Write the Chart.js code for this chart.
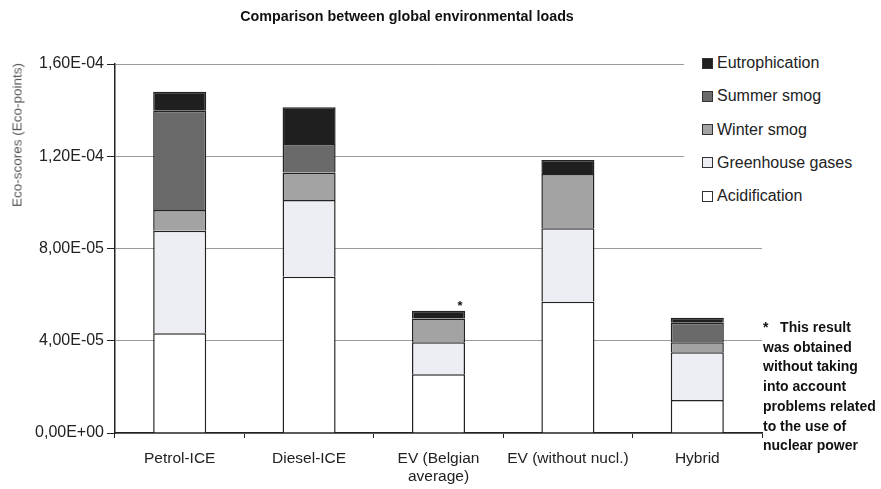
<!DOCTYPE html>
<html>
<head>
<meta charset="utf-8">
<script src="https://cdn.jsdelivr.net/npm/chart.js@4/dist/chart.umd.min.js"></script>
<style>
  body { margin: 0; background: #fff; font-family: "Liberation Sans", Arial, sans-serif; }
  #wrap { position: relative; width: 881px; height: 489px; }
  #title { position: absolute; left: 0; width: 814px; top: 8px; text-align: center;
           font-weight: bold; font-size: 14.3px; color: #111; }
  #ytitle { position: absolute; left: 17px; top: 135px; transform: translate(-50%, -50%) rotate(-90deg);
            white-space: nowrap; font-size: 13.5px; color: #555; }
  #legend { position: absolute; left: 684px; top: 52px; width: 197px; height: 160px; background: #fff; }
  .row { position: absolute; left: 18px; height: 20px; display: flex; align-items: center;
         font-size: 16px; color: #222; white-space: nowrap; }
  .box { width: 9px; height: 9px; border: 1.5px solid #333; margin-right: 4px; }
  #note { position: absolute; left: 763px; top: 318px; font-weight: bold; font-size: 14px;
          line-height: 19.7px; color: #111; white-space: nowrap; background: transparent; }
</style>
</head>
<body>
<div id="wrap">
  <canvas id="envChart"></canvas>
  <div id="title">Comparison between global environmental loads</div>
  <div id="ytitle">Eco-scores (Eco-points)</div>
  <div id="legend"></div>
  <div id="note">*&nbsp;&nbsp;&nbsp;This result<br>was obtained<br>without taking<br>into account<br>problems related<br>to the use of<br>nuclear power</div>
</div>
<script>
// Vehicle types along the x axis
const vehicles = ['Petrol-ICE', 'Diesel-ICE', ['EV (Belgian', 'average)'], 'EV (without nucl.)', 'Hybrid'];

// Eco-scores per impact category (Eco-points)
const acidification  = [4.32e-5, 6.78e-5, 2.55e-5, 5.69e-5, 1.43e-5];
const greenhouse     = [4.45e-5, 3.32e-5, 1.38e-5, 3.19e-5, 2.07e-5];
const winterSmog     = [0.90e-5, 1.19e-5, 1.04e-5, 2.35e-5, 0.43e-5];
const summerSmog     = [4.30e-5, 1.24e-5, 0.00e-5, 0.00e-5, 0.85e-5];
const eutrophication = [0.83e-5, 1.59e-5, 0.33e-5, 0.61e-5, 0.22e-5];

const yTicks = [0, 4e-5, 8e-5, 1.2e-4, 1.6e-4];

const series = [
    { label: 'Acidification', data: acidification, color: '#ffffff' },
    { label: 'Greenhouse gases', data: greenhouse, color: '#eceef3' },
    { label: 'Winter smog', data: winterSmog, color: '#a3a3a3' },
    { label: 'Summer smog', data: summerSmog, color: '#6a6a6a' },
    { label: 'Eutrophication', data: eutrophication, color: '#1f1f1f' }
];

// 1,60E-04 style labels
function sciLabel(v) {
    const s = Number(v).toExponential(2);
    const [m, e] = s.split('e');
    const sign = e[0] === '-' ? '-' : '+';
    const digits = e.replace(/[+-]/, '').padStart(2, '0');
    return m.replace('.', ',') + 'E' + sign + digits;
}

// Build the legend top-down
const legend = document.getElementById('legend');
series.slice().reverse().forEach((s, i) => {
    const row = document.createElement('div');
    row.className = 'row';
    row.style.top = (1 + i * 33.3) + 'px';
    row.innerHTML = '<span class="box" style="background:' + s.color + '"></span>' + s.label;
    legend.appendChild(row);
});

// Asterisk above the Belgian EV bar
const starPlugin = {
    id: 'star',
    afterDatasetsDraw(chart) {
        const last = chart.getDatasetMeta(series.length - 1).data[2];
        const ctx = chart.ctx;
        ctx.save();
        ctx.fillStyle = '#111';
        ctx.font = 'bold 13px "Liberation Sans", Arial, sans-serif';
        ctx.textAlign = 'center';
        ctx.fillText('*', last.x + last.width / 2 - 5, last.y - 1);
        ctx.restore();
    }
};

const font = '"Liberation Sans", Arial, sans-serif';

const ctx = document.getElementById('envChart').getContext('2d');
new Chart(ctx, {
    type: 'bar',
    data: {
        labels: vehicles,
        datasets: series.map(s => ({
            label: s.label,
            data: s.data,
            backgroundColor: s.color,
            borderColor: '#222',
            borderWidth: 1.5,
            barPercentage: 0.82,
            categoryPercentage: 0.5
        }))
    },
    options: {
        responsive: true,
        maintainAspectRatio: false,
        animation: false,
        layout: { padding: { left: 0, top: 64, right: 119, bottom: 0 } },
        plugins: {
            legend: { display: false },
            title: { display: false },
            tooltip: { enabled: false }
        },
        scales: {
            x: {
                stacked: true,
                afterFit(scale) { scale.height = 56; },
                grid: { drawOnChartArea: false, drawTicks: true, tickLength: 5, color: '#222', offset: true },
                border: { color: '#222', width: 1.5 },
                ticks: {
                    color: '#222',
                    padding: 12,
                    maxRotation: 0,
                    autoSkip: false,
                    font: { family: font, size: 15.5, lineHeight: 1.15 }
                }
            },
            y: {
                stacked: true,
                min: 0,
                max: 1.6e-4,
                afterFit(scale) { scale.width = 115; },
                afterBuildTicks(scale) { scale.ticks = yTicks.map(v => ({ value: v })); },
                grid: { color: '#9a9a9a', lineWidth: 1, tickLength: 8, tickColor: '#222' },
                border: { color: '#222', width: 1.5 },
                ticks: {
                    color: '#222',
                    padding: 3,
                    callback: v => sciLabel(v),
                    font: { family: font, size: 16 }
                }
            }
        }
    },
    plugins: [starPlugin]
});
</script>
</body>
</html>
